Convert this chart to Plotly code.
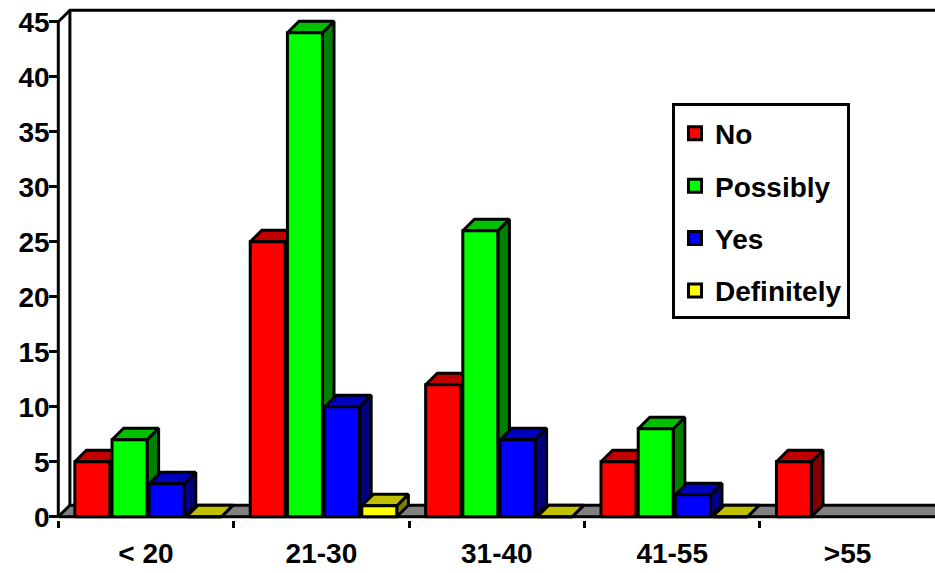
import plotly.graph_objects as go

# ---- data -------------------------------------------------------------
categories = ["< 20", "21-30", "31-40", "41-55", ">55"]
series_names = ["No", "Possibly", "Yes", "Definitely"]
no_vals = [5, 25, 12, 5, 5]
possibly_vals = [7, 44, 26, 8, None]
yes_vals = [3, 10, 7, 2, None]
definitely_vals = [0, 1, 0, 0, None]
y_tick_vals = [0, 5, 10, 15, 20, 25, 30, 35, 40, 45]

series_vals = [no_vals, possibly_vals, yes_vals, definitely_vals]

# ---- styling -----------------------------------------------------------
front_colors = ["#ff0000", "#00ff00", "#0000ff", "#ffff00"]
top_colors = ["#c00000", "#00c000", "#0000c0", "#c0c000"]
side_colors = ["#800000", "#008000", "#000080", "#808000"]
floor_color = "#808080"
EDGE = dict(color="black", width=3)
FONT = dict(family="Liberation Sans, Arial, sans-serif",
            size=28, color="black", weight="bold")

W, H = 935, 573
# pixel geometry of the front plane
X_PX0, X_SCALE = 58.3, 175.4     # px of x=-0.5, px per category
Y_PX0, Y_SCALE = 516.7, 10.998   # px of y=0, px per unit
PLOT_L, PLOT_R, PLOT_T, PLOT_B = 40, 935, 4, 520

x_range = [-0.5 - (X_PX0 - PLOT_L) / X_SCALE, -0.5 + (PLOT_R - X_PX0) / X_SCALE]
y_range = [-(PLOT_B - Y_PX0) / Y_SCALE, (Y_PX0 - PLOT_T) / Y_SCALE]

# oblique depth offset (data units)
DX = 11.6 / X_SCALE
DY = 11.5 / Y_SCALE
Y_TOP = y_tick_vals[-1]

# bar layout inside a category
PITCH = 0.212
BAR_W = 0.1995
GROUP_OFF = 0.012

fig = go.Figure()


def poly(xs, ys, fill):
    fig.add_trace(go.Scatter(
        x=xs + [xs[0]], y=ys + [ys[0]], mode="lines", fill="toself",
        fillcolor=fill, line=EDGE, showlegend=False, hoverinfo="skip"))


def line(xs, ys):
    fig.add_trace(go.Scatter(
        x=xs, y=ys, mode="lines", line=EDGE, showlegend=False,
        hoverinfo="skip"))


# floor
fx0, fx1 = -0.5, x_range[1] + 0.5
poly([fx0, fx1, fx1 + DX, fx0 + DX], [0, 0, DY, DY], floor_color)

# front axis line, side-wall top edge, back wall top and left edges
line([-0.5, -0.5, -0.5 + DX, x_range[1] + 0.5],
     [0, Y_TOP, Y_TOP + DY, Y_TOP + DY])
line([-0.5 + DX, -0.5 + DX], [DY, Y_TOP + DY])

# 3-D columns, drawn left to right so nearer faces overlap correctly
for i in range(len(categories)):
    for k, vals in enumerate(series_vals):
        v = vals[i]
        if v is None:
            continue
        xc = i + GROUP_OFF + (k - 1.5) * PITCH
        x0, x1 = xc - BAR_W / 2, xc + BAR_W / 2
        poly([x1, x1 + DX, x1 + DX, x1], [0, DY, v + DY, v], side_colors[k])
        poly([x0, x1, x1 + DX, x0 + DX], [v, v, v + DY, v + DY], top_colors[k])
        poly([x0, x1, x1, x0], [0, 0, v, v], front_colors[k])

# legend entries
for k, name in enumerate(series_names):
    fig.add_trace(go.Scatter(
        x=[None], y=[None], mode="markers", name=name,
        legendgroup=name,
        marker=dict(symbol="square", size=13, color=front_colors[k],
                    line=dict(color="black", width=3))))

fig.update_layout(
    width=W, height=H, autosize=False,
    margin=dict(l=0, r=0, t=0, b=0, pad=0),
    paper_bgcolor="white", plot_bgcolor="white",
    font=FONT,
    hovermode=False,
    xaxis=dict(
        domain=[PLOT_L / W, PLOT_R / W], range=x_range,
        automargin=False,
        showgrid=False, zeroline=False, showline=False,
        tickmode="array", tickvals=list(range(len(categories))),
        ticktext=categories, ticks="", tickfont=FONT,
        ticklabelstandoff=14,
        minor=dict(tickmode="array",
                   tickvals=[c - 0.5 for c in range(len(categories) + 1)],
                   ticks="outside", ticklen=7, tickwidth=3,
                   tickcolor="black", showgrid=False),
        fixedrange=True,
    ),
    yaxis=dict(
        domain=[1 - PLOT_B / H, 1 - PLOT_T / H], range=y_range,
        automargin=False,
        anchor="free", position=X_PX0 / W,
        showgrid=False, zeroline=False, showline=False,
        tickmode="array", tickvals=y_tick_vals,
        ticks="outside", ticklen=9, tickwidth=3, tickcolor="black",
        tickfont=FONT, ticklabelstandoff=-6, fixedrange=True,
    ),
    legend=dict(
        x=672 / W, y=1 - 103 / H, xanchor="left", yanchor="top",
        bgcolor="white", bordercolor="black", borderwidth=3,
        font=FONT, tracegroupgap=13, traceorder="grouped",
        title=dict(text=" ", font=dict(size=2)),
        itemclick=False, itemdoubleclick=False,
    ),
)

fig.write_html("out.html")
